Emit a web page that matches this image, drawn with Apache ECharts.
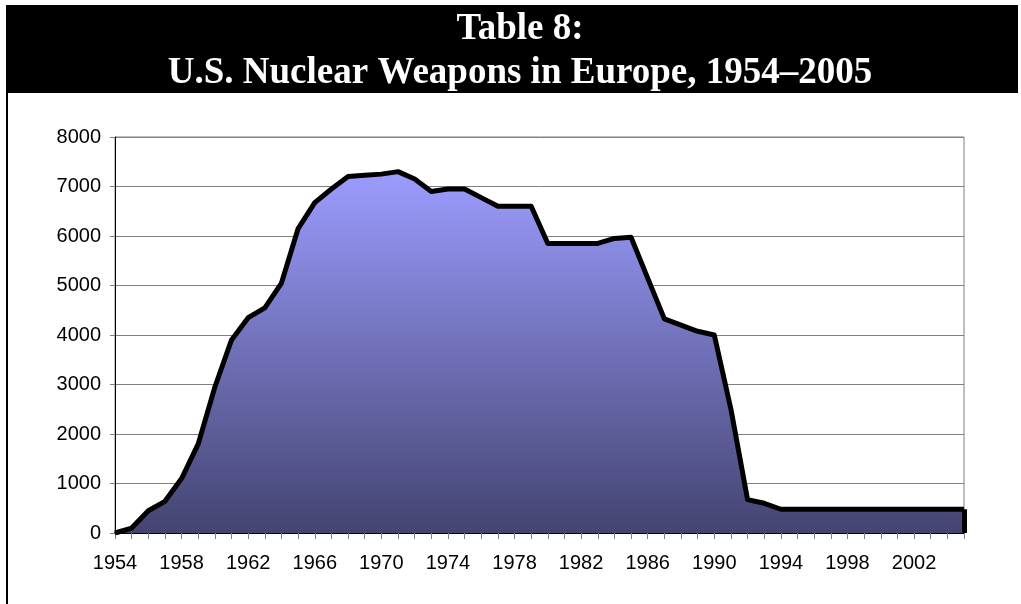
<!DOCTYPE html>
<html>
<head>
<meta charset="utf-8">
<script src="https://cdn.jsdelivr.net/npm/echarts@6/dist/echarts.min.js"></script>
<style>
  html, body { margin: 0; padding: 0; background: #fff; }
  #chart { width: 1021px; height: 604px; }
</style>
</head>
<body>
<div id="chart"></div>
<script>
// years on the x axis, 1954..2005
const years = ['1954', '1955', '1956', '1957', '1958', '1959', '1960', '1961', '1962', '1963',
    '1964', '1965', '1966', '1967', '1968', '1969', '1970', '1971', '1972', '1973',
    '1974', '1975', '1976', '1977', '1978', '1979', '1980', '1981', '1982', '1983',
    '1984', '1985', '1986', '1987', '1988', '1989', '1990', '1991', '1992', '1993',
    '1994', '1995', '1996', '1997', '1998', '1999', '2000', '2001', '2002', '2003',
    '2004', '2005'];

// number of weapons
const weapons = [0, 100, 450, 640, 1100, 1800, 2950, 3900, 4350, 4550,
    5050, 6150, 6675, 6950, 7200, 7225, 7250, 7300, 7150, 6900,
    6950, 6950, 6775, 6600, 6600, 6600, 5850, 5850, 5850, 5850,
    5950, 5975, 5150, 4325, 4200, 4075, 4000, 2500, 675, 600,
    480, 480, 480, 480, 480, 480, 480, 480, 480, 480,
    480, 480];

const titleLines = ['Table 8:', 'U.S. Nuclear Weapons in Europe, 1954\u20132005'];

const chart = echarts.init(document.getElementById('chart'));
const lastYear = years[years.length - 1];
const lastValue = weapons[weapons.length - 1];

chart.setOption({
    animation: false,
    grid: {
        left: 115, right: 57, top: 137, bottom: 71,
        show: true, borderColor: '#808080', borderWidth: 1
    },
    graphic: [
        { type: 'rect', shape: { x: 6, y: 5, width: 1012, height: 88 }, style: { fill: '#000' } },
        { type: 'line', shape: { x1: 7, y1: 93, x2: 7, y2: 604 }, style: { stroke: '#000', lineWidth: 2 } },
        {
            type: 'text', x: 520, y: 29,
            style: {
                text: titleLines[0], fill: '#fff', font: 'bold 37px "Liberation Serif", serif',
                align: 'center', verticalAlign: 'middle'
            }
        },
        {
            type: 'text', x: 520, y: 73,
            style: {
                text: titleLines[1], fill: '#fff', font: 'bold 37px "Liberation Serif", serif',
                align: 'center', verticalAlign: 'middle'
            }
        }
    ],
    xAxis: {
        type: 'category',
        data: years,
        boundaryGap: false,
        axisLine: { lineStyle: { color: '#000', width: 2 } },
        axisTick: { interval: 0, length: 6, lineStyle: { color: '#808080' } },
        axisLabel: {
            interval: 3, margin: 20, color: '#000', fontSize: 20,
            fontFamily: '"Liberation Sans", Arial, sans-serif'
        },
        splitLine: { show: false }
    },
    yAxis: {
        type: 'value',
        min: 0, max: 8000, interval: 1000,
        axisLine: { show: true, lineStyle: { color: '#000', width: 1 } },
        axisTick: { show: true, length: 5, lineStyle: { color: '#808080' } },
        axisLabel: {
            margin: 14, color: '#000', fontSize: 20,
            fontFamily: '"Liberation Sans", Arial, sans-serif',
            formatter: v => String(v)
        },
        splitLine: { lineStyle: { color: '#808080', width: 1 } }
    },
    series: [
        {
            type: 'line',
            data: weapons,
            symbol: 'none',
            lineStyle: { color: '#000', width: 5, join: 'round' },
            areaStyle: {
                opacity: 1,
                color: new echarts.graphic.LinearGradient(0, 0, 0, 1, [
                    { offset: 0, color: '#9c9cff' },
                    { offset: 1, color: '#434470' }
                ])
            },
            markLine: {
                silent: true,
                symbol: 'none',
                label: { show: false },
                lineStyle: { color: '#000', width: 5, type: 'solid' },
                data: [[{ coord: [lastYear, 0] }, { coord: [lastYear, lastValue] }]]
            }
        }
    ]
});
</script>
</body>
</html>
